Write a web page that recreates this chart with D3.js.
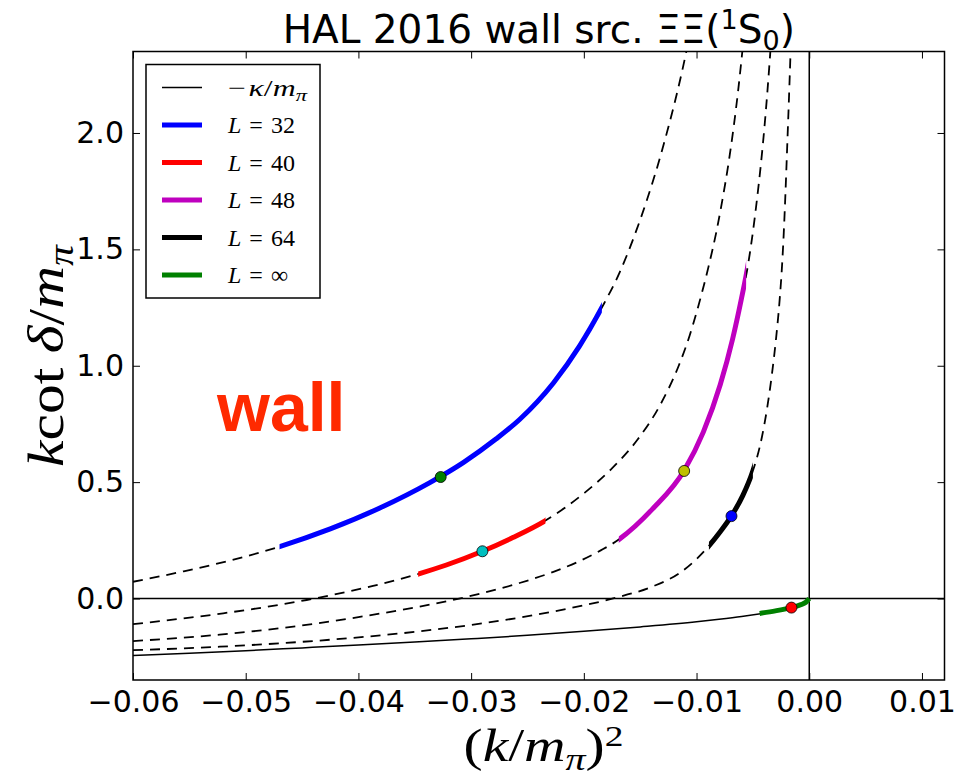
<!DOCTYPE html>
<html><head><meta charset="utf-8">
<script src="https://cdn.jsdelivr.net/npm/d3@7"></script>
<style>body{margin:0;background:#fff}</style>
</head><body>
<svg id="chart" width="964" height="779"></svg>
<script>
// ---------- data ----------
const xDomain = [-0.06, 0.012];
const yDomain = [-0.35, 2.35];
const xTicks = [-0.06, -0.05, -0.04, -0.03, -0.02, -0.01, 0.00, 0.01];
const yTicks = [0.0, 0.5, 1.0, 1.5, 2.0];

// -kappa/m_pi (bound-state condition line)
const kappaLine = [[-0.06,-0.245],[-0.055,-0.235],[-0.05,-0.224],[-0.045,-0.212],[-0.04,-0.200],
  [-0.035,-0.187],[-0.03,-0.173],[-0.025,-0.158],[-0.02,-0.141],[-0.015,-0.122],[-0.01,-0.100],
  [-0.008,-0.089],[-0.006,-0.077],[-0.004,-0.063],[-0.003,-0.055],[-0.002,-0.045],
  [-0.0012,-0.035],[-0.0006,-0.024],[-0.0002,-0.014],[0,0]];

// finite-volume curves k cot(delta)/m_pi vs (k/m_pi)^2
const curveL32 = [[-0.06,0.072],[-0.0555,0.117],[-0.0514,0.163],[-0.047,0.223],[-0.0425,0.299],
  [-0.0381,0.389],[-0.0337,0.497],[-0.0307,0.584],[-0.0278,0.685],[-0.0257,0.769],[-0.0227,0.926],
  [-0.0204,1.083],[-0.0184,1.250],[-0.01684,1.399],[-0.01564,1.542],[-0.01439,1.714],
  [-0.01338,1.871],[-0.01248,2.029],[-0.01166,2.186],[-0.01093,2.344],[-0.01069,2.40]];
const curveL40 = [[-0.06,-0.110],[-0.052,-0.0635],[-0.0446,-0.0063],[-0.0425,0.0139],
  [-0.0387,0.0543],[-0.0366,0.0796],[-0.0347,0.1054],[-0.0322,0.144],[-0.0290,0.203],
  [-0.0263,0.262],[-0.0234,0.335],[-0.01994,0.454],[-0.01761,0.554],[-0.01523,0.683],
  [-0.01329,0.826],[-0.01160,0.998],[-0.01061,1.130],[-0.00985,1.255],[-0.00893,1.427],
  [-0.00826,1.571],[-0.00770,1.714],[-0.00716,1.871],[-0.00670,2.028],[-0.00630,2.186],
  [-0.00595,2.344],[-0.00583,2.40]];
const curveL48 = [[-0.06,-0.183],[-0.0523,-0.155],[-0.0450,-0.1159],[-0.0400,-0.0798],
  [-0.0346,-0.0351],[-0.0316,-0.0059],[-0.0292,0.0207],[-0.0257,0.0667],[-0.0227,0.1148],
  [-0.0204,0.1604],[-0.0185,0.2068],[-0.0169,0.2532],[-0.0139,0.385],[-0.0111,0.550],
  [-0.0094,0.715],[-0.0079,0.918],[-0.0068,1.115],[-0.00606,1.278],[-0.0054,1.443],
  [-0.00501,1.571],[-0.00464,1.714],[-0.00428,1.871],[-0.00397,2.028],[-0.00370,2.186],
  [-0.00346,2.344],[-0.00338,2.40]];
const curveL64 = [[-0.06,-0.222],[-0.0523,-0.207],[-0.0450,-0.186],[-0.0346,-0.141],
  [-0.0286,-0.104],[-0.0227,-0.0557],[-0.0174,0.0006],[-0.0139,0.0517],[-0.0115,0.1097],
  [-0.0097,0.184],[-0.0089,0.2265],[-0.0079,0.287],[-0.0069,0.355],[-0.0059,0.442],
  [-0.0050,0.549],[-0.00464,0.605],[-0.00419,0.696],[-0.00375,0.814],[-0.00331,0.964],
  [-0.00295,1.115],[-0.00262,1.287],[-0.00242,1.425],[-0.00226,1.572],[-0.00211,1.743],
  [-0.00195,1.950],[-0.00177,2.190],[-0.00165,2.363],[-0.00161,2.43]];
const curveInf = [[-0.0044,-0.064],[-0.003,-0.053],[-0.0016,-0.039],[-0.0008,-0.027],
  [-0.0003,-0.016],[0,0]];

// fitted ranges drawn solid
const rangeL32 = [-0.047, -0.0184];
const rangeL40 = [-0.0347, -0.0234];
const rangeL48 = [-0.0169, -0.0056];
const rangeL64 = [-0.0089, -0.0050];

// lattice data points on each curve: [x, y]
const pointL32 = [-0.0327, 0.522];
const pointL40 = [-0.0290, 0.203];
const pointL48 = [-0.0111, 0.548];
const pointL64 = [-0.0069, 0.354];
const pointInf = [-0.00158, -0.039];

const legendNames = ["L=32", "L=40", "L=48", "L=64", "L=∞"];

// ---------- layout ----------
const svg = d3.select('#chart');
const L = 133, R = 944.5, T = 51.5, B = 680;
const x = d3.scaleLinear().domain(xDomain).range([L, R]);
const y = d3.scaleLinear().domain(yDomain).range([B, T]);

const defs = svg.append('defs');
defs.append('clipPath').attr('id', 'plotclip')
  .append('rect').attr('x', L).attr('y', T).attr('width', R - L).attr('height', B - T);

const line = d3.line().x(d => x(d[0])).y(d => y(d[1])).curve(d3.curveMonotoneX);

const plot = svg.append('g').attr('clip-path', 'url(#plotclip)');

// zero lines
plot.append('line').attr('x1', L).attr('x2', R).attr('y1', y(0)).attr('y2', y(0))
  .attr('stroke', '#000').attr('stroke-width', 1.5);
plot.append('line').attr('x1', x(0)).attr('x2', x(0)).attr('y1', T).attr('y2', B)
  .attr('stroke', '#000').attr('stroke-width', 1.5);

// -kappa line
plot.append('path').attr('d', line(kappaLine)).attr('fill', 'none')
  .attr('stroke', '#000').attr('stroke-width', 1.5);

const series = [
  {id: 'l32', pts: curveL32, range: rangeL32, color: '#0000ff', pt: pointL32, mk: '#008000'},
  {id: 'l40', pts: curveL40, range: rangeL40, color: '#ff0000', pt: pointL40, mk: '#00bfbf'},
  {id: 'l48', pts: curveL48, range: rangeL48, color: '#bf00bf', pt: pointL48, mk: '#bfbf00'},
  {id: 'l64', pts: curveL64, range: rangeL64, color: '#000000', pt: pointL64, mk: '#0000ff'}
];

// dashed full curves
series.forEach(s => {
  plot.append('path').attr('d', line(s.pts)).attr('fill', 'none')
    .attr('stroke', '#000').attr('stroke-width', 1.8).attr('stroke-dasharray', '10,7');
});
// solid fitted parts
series.forEach(s => {
  defs.append('clipPath').attr('id', 'clip-' + s.id)
    .append('rect').attr('x', x(s.range[0])).attr('y', T)
    .attr('width', x(s.range[1]) - x(s.range[0])).attr('height', B - T);
  plot.append('path').attr('d', line(s.pts)).attr('fill', 'none')
    .attr('clip-path', 'url(#clip-' + s.id + ')')
    .attr('stroke', s.color).attr('stroke-width', 5);
});
plot.append('path').attr('d', line(curveInf)).attr('fill', 'none')
  .attr('stroke', '#008000').attr('stroke-width', 5);

// markers
const markers = series.map(s => ({p: s.pt, c: s.mk})).concat([{p: pointInf, c: '#ff0000'}]);
plot.selectAll('circle.mk').data(markers).enter().append('circle')
  .attr('class', 'mk')
  .attr('cx', d => x(d.p[0])).attr('cy', d => y(d.p[1])).attr('r', 5.5)
  .attr('fill', d => d.c).attr('stroke', '#000').attr('stroke-width', 0.8);

// ---------- axes ----------
const tickFont = 'DejaVu Sans';
function styleAxis(g) {
  g.select('.domain').remove();
  g.selectAll('.tick line').attr('stroke', '#000').attr('stroke-width', 1);
  g.selectAll('.tick text').attr('fill', '#000').style('font-family', tickFont).style('font-size', '30px');
}
svg.append('g').attr('transform', `translate(0,${B})`)
  .call(d3.axisBottom(x).tickValues(xTicks).tickFormat(d3.format('.2f')).tickSize(-7).tickPadding(10.5))
  .call(styleAxis);
svg.append('g').attr('transform', `translate(0,${T})`)
  .call(d3.axisTop(x).tickValues(xTicks).tickFormat('').tickSize(-7))
  .call(styleAxis);
svg.append('g').attr('transform', `translate(${L},0)`)
  .call(d3.axisLeft(y).tickValues(yTicks).tickFormat(d3.format('.1f')).tickSize(-7).tickPadding(9))
  .call(styleAxis);
svg.append('g').attr('transform', `translate(${R},0)`)
  .call(d3.axisRight(y).tickValues(yTicks).tickFormat('').tickSize(-7))
  .call(styleAxis);

// frame
svg.append('rect').attr('x', L).attr('y', T).attr('width', R - L).attr('height', B - T)
  .attr('fill', 'none').attr('stroke', '#000').attr('stroke-width', 1.5);

// ---------- text ----------
const mathFont = 'Liberation Serif';
function mathText(sel, parts) {
  parts.forEach(p => {
    const t = sel.append('tspan').text(p.t)
      .style('font-style', p.i ? 'italic' : 'normal');
    if (p.dx) t.attr('dx', p.dx);
    if (p.dy) t.attr('dy', p.dy);
    if (p.s) t.style('font-size', p.s + 'px');
  });
  return sel;
}

// title
const title = svg.append('text').attr('x', (L + R) / 2).attr('y', 43)
  .attr('text-anchor', 'middle').style('font-family', 'DejaVu Sans').style('font-size', '39px');
mathText(title, [
  {t: 'HAL 2016 wall src. ΞΞ('},
  {t: '1', dy: -14, s: 27},
  {t: 'S', dy: 14},
  {t: '0', dy: 7, s: 27},
  {t: ')', dy: -7}
]);

// x label
const xl = svg.append('text').attr('x', 543.5).attr('y', 761).attr('text-anchor', 'middle')
  .attr('textLength', 160).attr('lengthAdjust', 'spacingAndGlyphs')
  .style('font-family', mathFont).style('font-size', '46px');
mathText(xl, [
  {t: '('}, {t: 'k', i: true}, {t: '/'}, {t: 'm', i: true},
  {t: 'π', i: true, dy: 9, s: 32}, {t: ')', dy: -9}, {t: '2', dy: -15, s: 30}
]);

// y label
const yl = svg.append('text').attr('transform', 'translate(63,356) rotate(-90)')
  .attr('text-anchor', 'middle').attr('textLength', 222).attr('lengthAdjust', 'spacingAndGlyphs')
  .style('font-family', mathFont).style('font-size', '50px');
mathText(yl, [
  {t: 'k', i: true}, {t: 'cot'}, {t: 'δ', i: true, dx: 12}, {t: '/'}, {t: 'm', i: true},
  {t: 'π', i: true, dy: 10, s: 35}
]);

// annotation
svg.append('text').attr('x', 217).attr('y', 431).text('wall')
  .style('font-family', 'Liberation Sans').style('font-weight', 'bold')
  .style('font-size', '68px').attr('fill', '#ff2a00');

// ---------- legend ----------
const lg = svg.append('g');
lg.append('rect').attr('x', 146).attr('y', 64.5).attr('width', 174).attr('height', 233.5)
  .attr('fill', '#fff').attr('stroke', '#000').attr('stroke-width', 1.5);
const rowY = i => 87.5 + i * 37.5;
const legendColors = ['#0000ff', '#ff0000', '#bf00bf', '#000000', '#008000'];
// first row: -kappa line
lg.append('line').attr('x1', 162).attr('x2', 202).attr('y1', rowY(0)).attr('y2', rowY(0))
  .attr('stroke', '#000').attr('stroke-width', 1.5);
const t0 = lg.append('text').attr('x', 228).attr('y', rowY(0) + 8)
  .attr('textLength', 79).attr('lengthAdjust', 'spacingAndGlyphs')
  .style('font-family', mathFont).style('font-size', '24px');
mathText(t0, [{t: '−'}, {t: 'κ', i: true, dx: 2}, {t: '/'}, {t: 'm', i: true},
  {t: 'π', i: true, dy: 5, s: 17}]);
legendNames.forEach((name, k) => {
  const i = k + 1;
  lg.append('line').attr('x1', 162).attr('x2', 202).attr('y1', rowY(i)).attr('y2', rowY(i))
    .attr('stroke', legendColors[k]).attr('stroke-width', 5);
  const [lhs, rhs] = name.split('=');
  const t = lg.append('text').attr('x', 228).attr('y', rowY(i) + 8)
    .style('font-family', mathFont).style('font-size', '24px');
  mathText(t, [{t: lhs, i: true}, {t: '=', dx: 8}, {t: rhs, dx: 8}]);
});
</script>
</body></html>
